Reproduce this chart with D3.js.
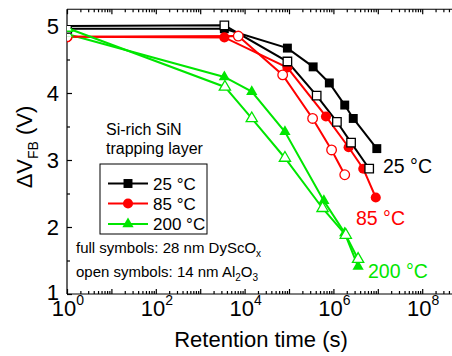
<!DOCTYPE html>
<html>
<head>
<meta charset="utf-8">
<script src="https://cdn.jsdelivr.net/npm/d3@7"></script>
<style>
body { margin: 0; background: #fff; }
svg { font-family: "Liberation Sans", Arial, sans-serif; display: block; }
</style>
</head>
<body>
<svg id="chart"></svg>
<script>
// retention time (s) and flat band shift (V)
var full25 = [[1, 4.96], [3.5e3, 4.96], [9.2e4, 4.67], [3.5e5, 4.39], [8.1e5, 4.15], [1.8e6, 3.82], [2.8e6, 3.62], [9.5e6, 3.17]];
var open25 = [[1, 5.0], [3.5e3, 5.01], [9.2e4, 4.47], [4.2e5, 3.96], [1.2e6, 3.57], [2.5e6, 3.26], [6.4e6, 2.87]];
var full85 = [[1, 4.84], [3.5e3, 4.83], [9.2e4, 4.38], [6.8e5, 3.65], [2.2e6, 3.19], [4.7e6, 2.87], [9e6, 2.44]];
var open85 = [[1, 4.84], [7.2e3, 4.85], [7.2e4, 4.27], [3.4e5, 3.62], [9.1e5, 3.15], [1.8e6, 2.78]];
var full200 = [[1, 4.88], [3.5e3, 4.24], [1.45e4, 4.02], [8.1e4, 3.42], [6.1e5, 2.39], [1.8e6, 1.91], [3.6e6, 1.41]];
var open200 = [[1, 4.97], [3.6e3, 4.09], [1.45e4, 3.62], [8.1e4, 3.03], [5.7e5, 2.28], [1.9e6, 1.88], [3.6e6, 1.52]];

var legendNames = ["25 °C", "85 °C", "200 °C"];
var xLabelExps = [0, 2, 4, 6, 8];
var yTicks = [1, 2, 3, 4, 5];

var black = "#000000", red = "#ff0000", green = "#00e600";

//series table: data + how to draw it
var series = [
    {data: full25, color: black, shape: d3.symbolSquare, size: 80, open: false},
    {data: full85, color: red, shape: d3.symbolCircle, size: 80, open: false},
    {data: full200, color: green, shape: d3.symbolTriangle, size: 55, open: false},
    {data: open25, color: black, shape: d3.symbolSquare, size: 72, open: true},
    {data: open85, color: red, shape: d3.symbolCircle, size: 72, open: true},
    {data: open200, color: green, shape: d3.symbolTriangle, size: 55, open: true}
];

var width = 452, height = 356;
var margins = {left: 67, top: 9.25, bottom: 62};

var svg = d3.select("#chart")
    .attr("width", width)
    .attr("height", height);

svg.append("rect").attr("width", width).attr("height", height).attr("fill", "#fff");

var xScale = d3.scaleLog()
    .domain([1, 1e10])
    .range([margins.left, margins.left + 10 * 44.4]);

var yScale = d3.scaleLinear()
    .domain([1, 5.25])
    .range([height - margins.bottom, margins.top]);

var x0 = xScale(1), yBot = yScale(1), yTop = yScale(5.25);

//clip so the points at t = 1 only show left of the axis
svg.append("clipPath").attr("id", "leftEdge")
    .append("rect").attr("x", 0).attr("y", 0).attr("width", x0).attr("height", height);

// ---- axes
var decades = d3.range(0, 11).map(function(e) { return Math.pow(10, e); });
var minors = [];
d3.range(0, 10).forEach(function(e) {
    for (var m = 2; m < 10; m++) minors.push(m * Math.pow(10, e));
});
var yMinor = [1.5, 2.5, 3.5, 4.5];

var axes = svg.append("g").attr("class", "axes");

var drawX = function(y, dir) {
    var g = axes.append("g").attr("transform", "translate(0," + y + ")");
    g.append("g").call(d3.axisBottom(xScale).tickValues(decades).tickSize(dir * 5).tickFormat(""));
    g.append("g").call(d3.axisBottom(xScale).tickValues(minors).tickSize(dir * 3).tickFormat(""));
    g.selectAll(".domain").remove();
    g.append("line").attr("x1", x0).attr("x2", width).attr("y1", 0).attr("y2", 0);
    return g;
};
drawX(yBot, -1);
drawX(yTop, 1);

var yAxisG = axes.append("g").attr("transform", "translate(" + x0 + ",0)");
yAxisG.append("g").call(d3.axisLeft(yScale).tickValues(yTicks).tickSize(-5).tickFormat(""));
yAxisG.append("g").call(d3.axisLeft(yScale).tickValues(yMinor).tickSize(-3).tickFormat(""));
yAxisG.selectAll(".domain").remove();
yAxisG.append("line").attr("x1", 0).attr("x2", 0).attr("y1", yTop).attr("y2", yBot);

axes.selectAll("line").attr("stroke", "#000").attr("stroke-width", 1.2);

// tick labels
var xLab = svg.append("g").selectAll("text")
    .data(xLabelExps)
    .enter()
    .append("text")
    .attr("x", function(e) { return xScale(Math.pow(10, e)) + 1; })
    .attr("y", yBot + 22)
    .attr("text-anchor", "middle")
    .attr("font-size", 22);
xLab.append("tspan").text("10");
xLab.append("tspan").attr("font-size", 14).attr("dy", -11).text(function(e) { return e; });

svg.append("g").selectAll("text")
    .data(yTicks)
    .enter()
    .append("text")
    .attr("x", x0 - 8)
    .attr("y", function(v) { return yScale(v) + (v == 1 ? 6 : 8); })
    .attr("text-anchor", "end")
    .attr("font-size", 22)
    .text(function(v) { return v; });

// axis titles
svg.append("text")
    .attr("x", 261).attr("y", 347)
    .attr("text-anchor", "middle")
    .attr("font-size", 22)
    .text("Retention time (s)");

var yl = svg.append("text")
    .attr("transform", "translate(32,147) rotate(-90)")
    .attr("text-anchor", "middle")
    .attr("font-size", 22);
yl.append("tspan").text("ΔV");
yl.append("tspan").attr("font-size", 14).attr("dy", 6).text("FB");
yl.append("tspan").attr("dy", -6).text(" (V)");

// ---- data
var line = d3.line()
    .x(function(d) { return xScale(d[0]); })
    .y(function(d) { return yScale(d[1]); });

var plot = svg.append("g");

series.forEach(function(s) {
    plot.append("path")
        .datum(s.data)
        .attr("d", line)
        .attr("fill", "none")
        .attr("stroke", s.color)
        .attr("stroke-width", 2);
});

series.forEach(function(s) {
    var sym = d3.symbol().type(s.shape).size(s.size);
    plot.append("g")
        .selectAll("path")
        .data(s.data)
        .enter()
        .append("path")
        .attr("d", sym)
        .attr("transform", function(d) { return "translate(" + xScale(d[0]) + "," + yScale(d[1]) + ")"; })
        .attr("fill", function(d) { return (s.open || d[0] == 1) ? "#fff" : s.color; })
        .attr("stroke", s.color)
        .attr("stroke-width", function(d) { return (s.open || d[0] == 1) ? 1.3 : 0; })
        .attr("clip-path", function(d) { return d[0] == 1 ? "url(#leftEdge)" : null; });
});

// ---- legend
var legend = svg.append("g");
legend.append("rect")
    .attr("x", 100).attr("y", 164)
    .attr("width", 107).attr("height", 70)
    .attr("fill", "#fff").attr("stroke", "#000").attr("stroke-width", 1);

var entries = legend.selectAll("g.entry")
    .data(series.slice(0, 3))
    .enter()
    .append("g")
    .attr("class", "entry")
    .attr("transform", function(s, i) { return "translate(0," + [183.5, 203.5, 224][i] + ")"; });

entries.append("line")
    .attr("x1", 108).attr("x2", 148)
    .attr("stroke", function(s) { return s.color; })
    .attr("stroke-width", 2);
entries.append("path")
    .attr("d", function(s) { return d3.symbol().type(s.shape).size(s.size)(); })
    .attr("transform", "translate(128,0)")
    .attr("fill", function(s) { return s.color; });
entries.append("text")
    .attr("x", 153).attr("y", 6)
    .attr("font-size", 17)
    .text(function(s, i) { return legendNames[i]; });

// ---- annotations
var notes = svg.append("g").attr("font-size", 16);
notes.append("text").attr("x", 106).attr("y", 135).text("Si-rich SiN");
notes.append("text").attr("x", 106).attr("y", 154).text("trapping layer");

var n1 = svg.append("text").attr("x", 76).attr("y", 253).attr("font-size", 15);
n1.append("tspan").text("full symbols: 28 nm DyScO");
n1.append("tspan").attr("font-size", 10).attr("dy", 4).text("x");

var n2 = svg.append("text").attr("x", 76).attr("y", 277).attr("font-size", 15);
n2.append("tspan").text("open symbols: 14 nm Al");
n2.append("tspan").attr("font-size", 10).attr("dy", 4).text("2");
n2.append("tspan").attr("dy", -4).text("O");
n2.append("tspan").attr("font-size", 10).attr("dy", 4).text("3");

var tempLabels = [
    {text: legendNames[0], color: black, x: 383, y: 173},
    {text: legendNames[1], color: red, x: 356, y: 225},
    {text: legendNames[2], color: green, x: 368, y: 278}
];
svg.append("g").selectAll("text")
    .data(tempLabels)
    .enter()
    .append("text")
    .attr("x", function(d) { return d.x; })
    .attr("y", function(d) { return d.y; })
    .attr("font-size", 19.5)
    .attr("fill", function(d) { return d.color; })
    .text(function(d) { return d.text; });
</script>
</body>
</html>
